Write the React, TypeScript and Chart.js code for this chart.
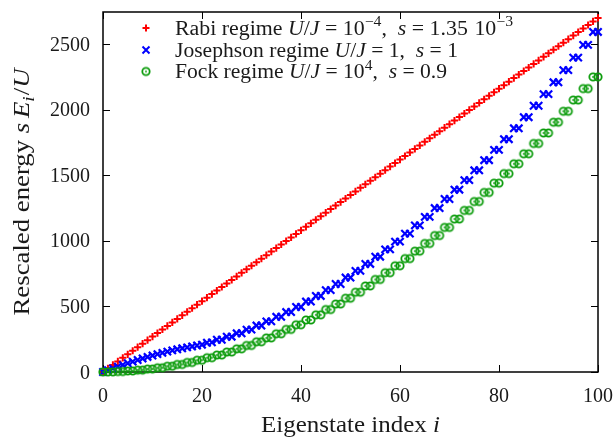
import React, { useEffect, useRef } from "react";
import { Chart, registerables } from "chart.js";

Chart.register(...registerables);

// Eigenstate index i
const indices = [0,1,2,3,4,5,6,7,8,9,10,11,12,13,14,15,16,17,18,19,20,21,22,23,24,25,26,27,28,29,30,31,32,33,34,35,36,37,38,39,40,41,42,43,44,45,46,47,48,49,50,51,52,53,54,55,56,57,58,59,60,61,62,63,64,65,66,67,68,69,70,71,72,73,74,75,76,77,78,79,80,81,82,83,84,85,86,87,88,89,90,91,92,93,94,95,96,97,98,99,100];

// Rabi regime U/J = 1e-4, s = 1.35e-3
const rabi = [0,27,54,81,108,135,162,189,216,243,270,297,324,351,378,405,432,459,486,513,540,567,594,621,648,675,702,729,756,783,810,837,864,891,918,945,972,999,1026,1053,1080,1107,1134,1161,1188,1215,1242,1269,1296,1323,1350,1377,1404,1431,1458,1485,1512,1539,1566,1593,1620,1647,1674,1701,1728,1755,1782,1809,1836,1863,1890,1917,1944,1971,1998,2025,2052,2079,2106,2133,2160,2187,2214,2241,2268,2295,2322,2349,2376,2403,2430,2457,2484,2511,2538,2565,2592,2619,2646,2673,2700];

// Josephson regime U/J = 1, s = 1
const josephson = [0,13.8,27.4,40.8,53.9,66.7,79.2,91.4,103.2,114.6,125.6,136.1,146.1,155.6,164.6,173,180.8,188,195,202,208,223,226,246,246,269,269,295,295,323,323,354,354,386,386,421,421,457,457,496,496,537,537,580,580,624,624,671,671,720,720,771,771,824,824,879,879,935,935,994,994,1055,1055,1118,1118,1183,1183,1250,1250,1319,1319,1390,1390,1463,1463,1538,1538,1615,1615,1694,1694,1775,1775,1858,1858,1943,1943,2030,2030,2119,2119,2209,2209,2302,2302,2397,2397,2494,2494,2593,2593];

// Fock regime U/J = 1e4, s = 0.9
const fock = [0,0.9,0.9,3.6,3.6,8.1,8.1,14.4,14.4,22.5,22.5,32.4,32.4,44.1,44.1,57.6,57.6,72.9,72.9,90,90,108.9,108.9,129.6,129.6,152.1,152.1,176.4,176.4,202.5,202.5,230.4,230.4,260.1,260.1,291.6,291.6,324.9,324.9,360,360,396.9,396.9,435.6,435.6,476.1,476.1,518.4,518.4,562.5,562.5,608.4,608.4,656.1,656.1,705.6,705.6,756.9,756.9,810,810,864.9,864.9,921.6,921.6,980.1,980.1,1040.4,1040.4,1102.5,1102.5,1166.4,1166.4,1232.1,1232.1,1299.6,1299.6,1368.9,1368.9,1440,1440,1512.9,1512.9,1587.6,1587.6,1664.1,1664.1,1742.4,1742.4,1822.5,1822.5,1904.4,1904.4,1988.1,1988.1,2073.6,2073.6,2160.9,2160.9,2250,2250];

const xTicks = [0, 20, 40, 60, 80, 100];
const yTicks = [0, 500, 1000, 1500, 2000, 2500];
const xMin = 0;
const xMax = 100;
const yMin = 0;
const yMax = 2745;

type Run = { t?: string; g?: number; it?: boolean; sup?: boolean; sub?: boolean };

const legendRows: Run[][] = [
  [{ t: "Rabi regime" }, { g: 5 }, { t: "U", it: true }, { t: "/" }, { t: "J", it: true }, { g: 5 }, { t: "=" }, { g: 5 }, { t: "10" }, { t: "−4", sup: true }, { t: "," }, { g: 10 }, { t: "s", it: true }, { g: 5 }, { t: "=" }, { g: 5 }, { t: "1.35" }, { g: 6 }, { t: "10" }, { t: "−3", sup: true }],
  [{ t: "Josephson regime" }, { g: 5 }, { t: "U", it: true }, { t: "/" }, { t: "J", it: true }, { g: 5 }, { t: "=" }, { g: 5 }, { t: "1," }, { g: 10 }, { t: "s", it: true }, { g: 5 }, { t: "=" }, { g: 5 }, { t: "1" }],
  [{ t: "Fock regime" }, { g: 5 }, { t: "U", it: true }, { t: "/" }, { t: "J", it: true }, { g: 5 }, { t: "=" }, { g: 5 }, { t: "10" }, { t: "4", sup: true }, { t: "," }, { g: 10 }, { t: "s", it: true }, { g: 5 }, { t: "=" }, { g: 5 }, { t: "0.9" }],
];
const legendWidths = [338, 283, 272];
const xTitle: Run[] = [{ t: "Eigenstate index " }, { t: "i", it: true }];
const yTitle: Run[] = [{ t: "Rescaled energy " }, { t: "s", it: true }, { g: 4 }, { t: "E", it: true }, { t: "i", it: true, sub: true }, { g: 1 }, { t: "/" }, { t: "U", it: true }];

const FAMILY = '"Liberation Serif", "Times New Roman", serif';
const RED = "#ff0000";
const BLUE = "#0000ff";
const GREEN = "#0c9c0c";
const TEXT = "#1a1a1a";

function runFont(r: Run, size: number) {
  const s = r.sup || r.sub ? size * 0.72 : size;
  return (r.it ? "italic " : "") + s + "px " + FAMILY;
}
function runWidth(ctx: CanvasRenderingContext2D, r: Run, size: number) {
  if (r.g !== undefined) return r.g;
  ctx.font = runFont(r, size);
  return ctx.measureText(r.t || "").width;
}
function measureRuns(ctx: CanvasRenderingContext2D, runs: Run[], size: number) {
  let w = 0;
  for (const r of runs) w += runWidth(ctx, r, size);
  return w;
}
function drawRuns(ctx: CanvasRenderingContext2D, runs: Run[], x: number, y: number, size: number) {
  let cx = x;
  ctx.textBaseline = "alphabetic";
  ctx.textAlign = "left";
  for (const r of runs) {
    const w = runWidth(ctx, r, size);
    if (r.t) {
      ctx.font = runFont(r, size);
      const dy = r.sup ? -size * 0.42 : r.sub ? size * 0.22 : 0;
      ctx.fillText(r.t, cx, y + dy);
    }
    cx += w;
  }
}
// draw runs starting at (x, y) stretched to the given width
function drawRunsFit(ctx: CanvasRenderingContext2D, runs: Run[], x: number, y: number, size: number, width: number) {
  const nat = measureRuns(ctx, runs, size);
  ctx.save();
  ctx.translate(x, y);
  ctx.scale(width / nat, 1);
  drawRuns(ctx, runs, 0, 0, size);
  ctx.restore();
}

function makeCircle(): HTMLCanvasElement {
  const c = document.createElement("canvas");
  c.width = 14;
  c.height = 14;
  const g = c.getContext("2d")!;
  g.strokeStyle = GREEN;
  g.fillStyle = GREEN;
  g.lineWidth = 1.8;
  g.beginPath();
  g.arc(7, 7, 3.7, 0, Math.PI * 2);
  g.stroke();
  g.beginPath();
  g.arc(7, 7, 0.9, 0, Math.PI * 2);
  g.fill();
  return c;
}

export default function App() {
  const ref = useRef<HTMLCanvasElement>(null);
  useEffect(() => {
    const circle = makeCircle();
    const frame = {
      id: "gnuframe",
      beforeDatasetsDraw(chart: any) {
        const ctx = chart.ctx as CanvasRenderingContext2D;
        const a = chart.chartArea;
        const xs = chart.scales.x;
        const ys = chart.scales.y;
        ctx.save();
        ctx.strokeStyle = "#000";
        ctx.lineWidth = 1;
        const tl = 7;
        ctx.beginPath();
        for (const v of yTicks) {
          const py = Math.round(ys.getPixelForValue(v)) + 0.5;
          ctx.moveTo(a.left, py);
          ctx.lineTo(a.left + tl, py);
          ctx.moveTo(a.right, py);
          ctx.lineTo(a.right - tl, py);
        }
        for (const v of xTicks) {
          const px = Math.round(xs.getPixelForValue(v)) + 0.5;
          ctx.moveTo(px, a.bottom);
          ctx.lineTo(px, a.bottom - tl);
          ctx.moveTo(px, a.top);
          ctx.lineTo(px, a.top + tl);
        }
        ctx.stroke();
        ctx.lineWidth = 1.5;
        ctx.strokeRect(a.left, a.top, a.right - a.left, a.bottom - a.top);
        ctx.restore();
      },
      afterDraw(chart: any) {
        const ctx = chart.ctx as CanvasRenderingContext2D;
        const a = chart.chartArea;
        const xs = chart.scales.x;
        const ys = chart.scales.y;
        ctx.save();
        ctx.fillStyle = TEXT;
        const ts = 20;
        ctx.font = ts + "px " + FAMILY;
        ctx.textAlign = "right";
        ctx.textBaseline = "alphabetic";
        for (const v of yTicks) {
          ctx.fillText(String(v), a.left - 13, ys.getPixelForValue(v) + ts * 0.33);
        }
        ctx.textAlign = "center";
        for (const v of xTicks) {
          ctx.fillText(String(v), xs.getPixelForValue(v), a.bottom + 29.5);
        }
        // axis titles
        const tsz = 23;
        const cx = (a.left + a.right) / 2;
        const xw = 179;
        drawRunsFit(ctx, xTitle, cx - xw / 2, 432, tsz, xw);
        const cy = (a.top + a.bottom) / 2;
        const yw = 247;
        ctx.save();
        ctx.translate(29, cy);
        ctx.rotate(-Math.PI / 2);
        drawRunsFit(ctx, yTitle, -yw / 2, 0, tsz, yw);
        ctx.restore();
        // legend
        const ls = 20;
        const rowsY = [28, 50, 71.5];
        const mx = 146;
        rowsY.forEach((ry, k) => {
          ctx.fillStyle = TEXT;
          drawRunsFit(ctx, legendRows[k], 175, ry + 6.5, ls, legendWidths[k]);
          ctx.lineWidth = 2;
          if (k === 0) {
            ctx.strokeStyle = RED;
            ctx.beginPath();
            ctx.moveTo(mx - 3.5, ry);
            ctx.lineTo(mx + 3.5, ry);
            ctx.moveTo(mx, ry - 3.5);
            ctx.lineTo(mx, ry + 3.5);
            ctx.stroke();
          } else if (k === 1) {
            ctx.strokeStyle = BLUE;
            ctx.beginPath();
            ctx.moveTo(mx - 3.5, ry - 3.5);
            ctx.lineTo(mx + 3.5, ry + 3.5);
            ctx.moveTo(mx - 3.5, ry + 3.5);
            ctx.lineTo(mx + 3.5, ry - 3.5);
            ctx.stroke();
          } else {
            ctx.drawImage(circle, mx - 7, ry - 7);
          }
        });
        ctx.restore();
      },
    };

    const chart = new Chart(ref.current!, {
      type: "scatter",
      data: {
        datasets: [
          {
            label: "Fock",
            data: indices.map((x, i) => ({ x, y: fock[i] })),
            pointStyle: circle as any,
            pointRadius: 7,
            clip: false as any,
          },
          {
            label: "Josephson",
            data: indices.map((x, i) => ({ x, y: josephson[i] })),
            pointStyle: "crossRot",
            pointRadius: 5.2,
            pointBorderColor: BLUE,
            pointBackgroundColor: BLUE,
            pointBorderWidth: 2.2,
            clip: false as any,
          },
          {
            label: "Rabi",
            data: indices.map((x, i) => ({ x, y: rabi[i] })),
            pointStyle: "cross",
            pointRadius: 3.6,
            pointBorderColor: RED,
            pointBackgroundColor: RED,
            pointBorderWidth: 2,
            clip: false as any,
          },
        ],
      },
      options: {
        responsive: false,
        animation: false,
        devicePixelRatio: 1,
        layout: { padding: { top: 12, right: 15, left: 0, bottom: 0 } },
        plugins: { legend: { display: false }, tooltip: { enabled: false } },
        events: [],
        scales: {
          x: {
            type: "linear",
            min: xMin,
            max: xMax,
            ticks: { display: false },
            grid: { display: false },
            border: { display: false },
            afterFit: (s: any) => {
              s.height = 67;
            },
          },
          y: {
            type: "linear",
            min: yMin,
            max: yMax,
            ticks: { display: false },
            grid: { display: false },
            border: { display: false },
            afterFit: (s: any) => {
              s.width = 103;
            },
          },
        },
      },
      plugins: [frame],
    } as any);
    return () => chart.destroy();
  }, []);
  return (
    <div style={{ position: "fixed", left: 0, top: 0, width: 613, height: 439, background: "#fff" }}>
      <canvas ref={ref} width={613} height={439} style={{ display: "block" }} />
    </div>
  );
}
